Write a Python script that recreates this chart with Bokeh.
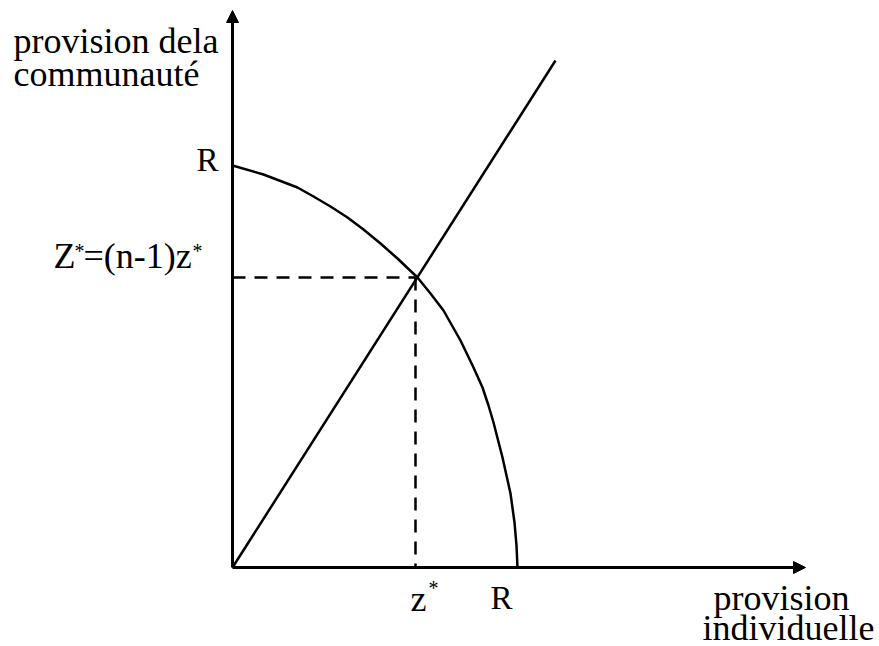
from bokeh.plotting import figure
from bokeh.models import Arrow, NormalHead, Range1d
from bokeh.core.properties import value
from bokeh.embed import file_html
from bokeh.resources import INLINE

# ---- data (arbitrary units, origin at axes crossing) ----
curve_x = [0, 31, 65, 81, 98, 115, 131, 148, 165, 185, 198, 211, 228, 241, 250, 256, 261, 270, 278, 282, 284, 285]
curve_y = [402, 393, 380, 371, 361, 350, 338, 324, 309, 290, 274, 257, 227, 200, 180, 162, 145, 110, 74, 45, 22, 0]
ray_x = [0, 323]
ray_y = [0, 507]
z_star = 183          # individual provision at equilibrium
Z_star = 290          # community provision at equilibrium
R_x = 285             # R on the individual axis
R_y = 402             # R on the community axis
x_axis_end = 573
y_axis_end = 557

FONT = value("Liberation Serif")
DY = 10  # baseline correction

p = figure(width=879, height=646,
           x_range=Range1d(-232, 647), y_range=Range1d(-79, 567),
           output_backend="svg", toolbar_location=None,
           x_axis_location=None, y_axis_location=None, min_border=0)
p.grid.visible = False
p.outline_line_color = None
p.background_fill_color = "white"

# axes with arrow heads
p.add_layout(Arrow(end=NormalHead(size=12, fill_color="black", line_color="black"),
                   x_start=0, y_start=0, x_end=x_axis_end, y_end=0,
                   line_width=3, line_color="black"))
p.add_layout(Arrow(end=NormalHead(size=12, fill_color="black", line_color="black"),
                   x_start=0, y_start=0, x_end=0, y_end=y_axis_end,
                   line_width=3, line_color="black"))

# curve and ray
p.line(curve_x, curve_y, line_width=2.5, line_color="black", line_join="round")
p.line(ray_x, ray_y, line_width=2.5, line_color="black")

# dashed guides
p.line([0, z_star], [Z_star, Z_star], line_width=2.5, line_color="black", line_dash="13 9")
p.line([z_star, z_star], [Z_star, 0], line_width=2.5, line_color="black", line_dash="13 9")

def txt(x, y, s, size, align="left"):
    p.text(x=[x], y=[y + DY], text=[s], text_font=FONT, text_font_size=f"{size}px",
           text_align=align, text_baseline="alphabetic", text_color="black")

# y-axis title
txt(-219, 517, "provision dela", 36)
txt(-219, 484, "communauté", 36)
# x-axis title
txt(481, -40, "provision", 36)
txt(470, -70, "individuelle", 36)

# R labels
txt(-14, R_y - 4, "R", 33, "right")
txt(R_x - 27, -40, "R", 33)

# Z* = (n-1) z*
txt(-179, Z_star + 12, "Z", 36)
txt(-158, Z_star + 17, "*", 20)
txt(-149, Z_star + 12, "=(n-1)z", 36)
txt(-40, Z_star + 17, "*", 20)

# z*
txt(z_star - 5, -41, "z", 36)
txt(z_star + 13, -30, "*", 20)

open("out.html", "w").write(file_html(p, INLINE))
